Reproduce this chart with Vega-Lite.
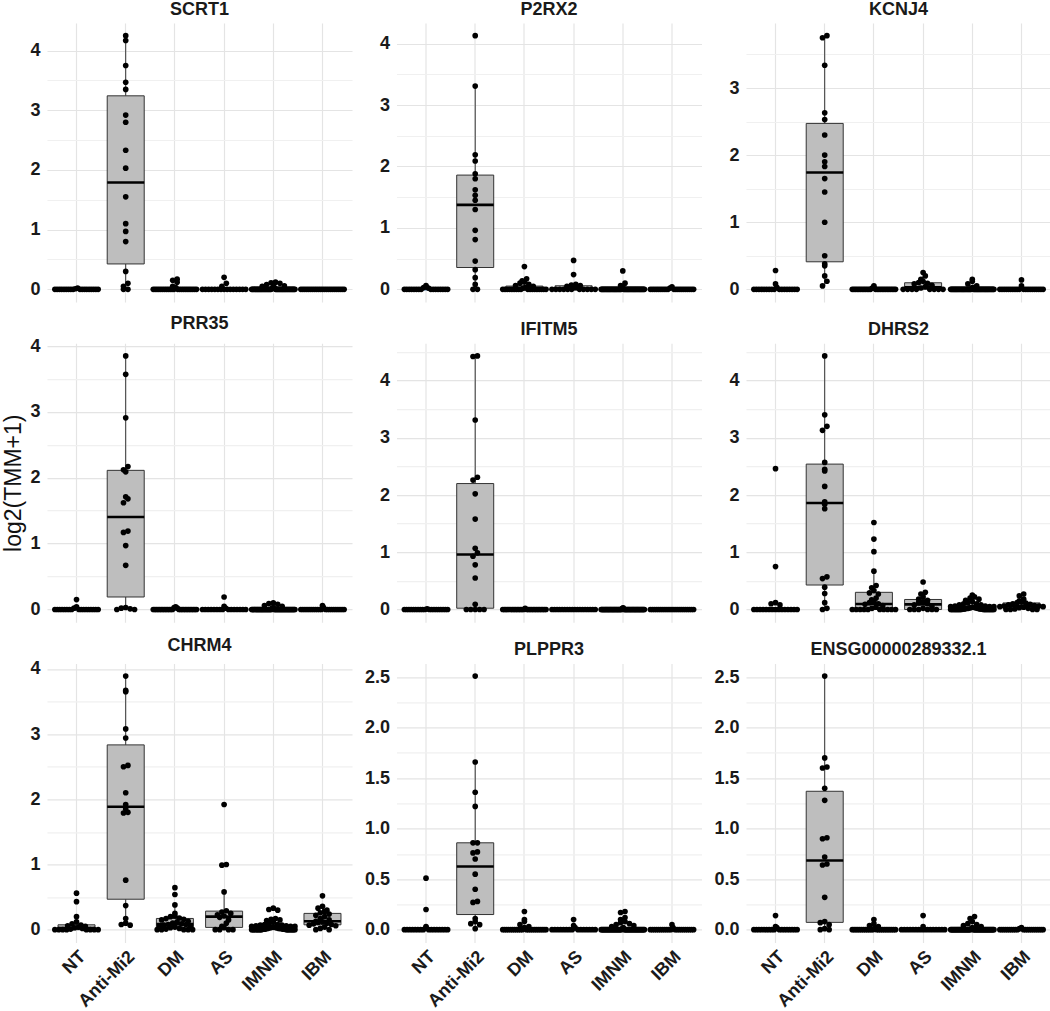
{
"$schema": "https://vega.github.io/schema/vega-lite/v6.json",
"background": "white",
"padding": {"left": 2, "top": 0, "right": 0, "bottom": 0},
"data": {"values": [
{"g":"NT","SCRT1":0.02,"P2RX2":0.06,"KCNJ4":0.28,"PRR35":0.15,"IFITM5":0.01,"DHRS2":2.46,"CHRM4":0.56,"PLPPR3":0.51,"ENSG00000289332.1":0.14},
{"g":"NT","SCRT1":0.01,"P2RX2":0.04,"KCNJ4":0.08,"PRR35":0.04,"IFITM5":0,"DHRS2":0.75,"CHRM4":0.43,"PLPPR3":0.2,"ENSG00000289332.1":0.03},
{"g":"NT","SCRT1":0,"P2RX2":0.03,"KCNJ4":0.03,"PRR35":0.02,"IFITM5":0,"DHRS2":0.12,"CHRM4":0.2,"PLPPR3":0.03,"ENSG00000289332.1":0.02},
{"g":"NT","SCRT1":0,"P2RX2":0.02,"KCNJ4":0,"PRR35":0,"IFITM5":0,"DHRS2":0.1,"CHRM4":0.12,"PLPPR3":0.02,"ENSG00000289332.1":0},
{"g":"NT","SCRT1":0,"P2RX2":0,"KCNJ4":0,"PRR35":0,"IFITM5":0,"DHRS2":0.08,"CHRM4":0.09,"PLPPR3":0,"ENSG00000289332.1":0},
{"g":"NT","SCRT1":0,"P2RX2":0,"KCNJ4":0,"PRR35":0,"IFITM5":0,"DHRS2":0,"CHRM4":0.07,"PLPPR3":0,"ENSG00000289332.1":0},
{"g":"NT","SCRT1":0,"P2RX2":0,"KCNJ4":0,"PRR35":0,"IFITM5":0,"DHRS2":0,"CHRM4":0.06,"PLPPR3":0,"ENSG00000289332.1":0},
{"g":"NT","SCRT1":0,"P2RX2":0,"KCNJ4":0,"PRR35":0,"IFITM5":0,"DHRS2":0,"CHRM4":0.05,"PLPPR3":0,"ENSG00000289332.1":0},
{"g":"NT","SCRT1":0,"P2RX2":0,"KCNJ4":0,"PRR35":0,"IFITM5":0,"DHRS2":0,"CHRM4":0.04,"PLPPR3":0,"ENSG00000289332.1":0},
{"g":"NT","SCRT1":0,"P2RX2":0,"KCNJ4":0,"PRR35":0,"IFITM5":0,"DHRS2":0,"CHRM4":0.03,"PLPPR3":0,"ENSG00000289332.1":0},
{"g":"NT","SCRT1":0,"P2RX2":0,"KCNJ4":0,"PRR35":0,"IFITM5":0,"DHRS2":0,"CHRM4":0.02,"PLPPR3":0,"ENSG00000289332.1":0},
{"g":"NT","SCRT1":0,"P2RX2":0,"KCNJ4":0,"PRR35":0,"IFITM5":0,"DHRS2":0,"CHRM4":0.01,"PLPPR3":0,"ENSG00000289332.1":0},
{"g":"NT","SCRT1":0,"P2RX2":0,"KCNJ4":0,"PRR35":0,"IFITM5":0,"DHRS2":0,"CHRM4":0,"PLPPR3":0,"ENSG00000289332.1":0},
{"g":"NT","SCRT1":0,"P2RX2":0,"KCNJ4":0,"PRR35":0,"IFITM5":0,"DHRS2":0,"CHRM4":0,"PLPPR3":0,"ENSG00000289332.1":0},
{"g":"NT","SCRT1":0,"P2RX2":0,"KCNJ4":0,"PRR35":0,"IFITM5":0,"DHRS2":0,"CHRM4":0,"PLPPR3":0,"ENSG00000289332.1":0},
{"g":"NT","SCRT1":0,"P2RX2":0,"KCNJ4":0,"PRR35":0,"IFITM5":0,"DHRS2":0,"CHRM4":0,"PLPPR3":0,"ENSG00000289332.1":0},
{"g":"NT","SCRT1":0,"P2RX2":0,"KCNJ4":0,"PRR35":0,"IFITM5":0,"DHRS2":0,"CHRM4":0,"PLPPR3":0,"ENSG00000289332.1":0},
{"g":"NT","SCRT1":0,"P2RX2":0,"KCNJ4":0,"PRR35":0,"IFITM5":0,"DHRS2":0,"CHRM4":0,"PLPPR3":0,"ENSG00000289332.1":0},
{"g":"NT","SCRT1":0,"P2RX2":0,"KCNJ4":0,"PRR35":0,"IFITM5":0,"DHRS2":0,"CHRM4":0,"PLPPR3":0,"ENSG00000289332.1":0},
{"g":"NT","SCRT1":0,"P2RX2":0,"KCNJ4":0,"PRR35":0,"IFITM5":0,"DHRS2":0,"CHRM4":0,"PLPPR3":0,"ENSG00000289332.1":0},
{"g":"Anti-Mi2","SCRT1":4.25,"P2RX2":4.13,"KCNJ4":3.78,"PRR35":3.85,"IFITM5":4.43,"DHRS2":4.43,"CHRM4":3.89,"PLPPR3":2.51,"ENSG00000289332.1":2.51},
{"g":"Anti-Mi2","SCRT1":4.17,"P2RX2":3.31,"KCNJ4":3.75,"PRR35":3.57,"IFITM5":4.42,"DHRS2":3.4,"CHRM4":3.67,"PLPPR3":1.66,"ENSG00000289332.1":1.7},
{"g":"Anti-Mi2","SCRT1":3.75,"P2RX2":2.19,"KCNJ4":3.34,"PRR35":2.91,"IFITM5":3.31,"DHRS2":3.2,"CHRM4":3.65,"PLPPR3":1.36,"ENSG00000289332.1":1.61},
{"g":"Anti-Mi2","SCRT1":3.47,"P2RX2":2.09,"KCNJ4":2.63,"PRR35":2.17,"IFITM5":2.31,"DHRS2":3.13,"CHRM4":3.08,"PLPPR3":1.22,"ENSG00000289332.1":1.6},
{"g":"Anti-Mi2","SCRT1":3.35,"P2RX2":1.88,"KCNJ4":2.53,"PRR35":2.12,"IFITM5":2.26,"DHRS2":2.57,"CHRM4":2.94,"PLPPR3":0.86,"ENSG00000289332.1":1.4},
{"g":"Anti-Mi2","SCRT1":2.92,"P2RX2":1.8,"KCNJ4":2.3,"PRR35":2.09,"IFITM5":2.02,"DHRS2":2.45,"CHRM4":2.52,"PLPPR3":0.86,"ENSG00000289332.1":1.28},
{"g":"Anti-Mi2","SCRT1":2.8,"P2RX2":1.62,"KCNJ4":2.0,"PRR35":1.71,"IFITM5":1.58,"DHRS2":2.42,"CHRM4":2.5,"PLPPR3":0.77,"ENSG00000289332.1":0.91},
{"g":"Anti-Mi2","SCRT1":2.33,"P2RX2":1.53,"KCNJ4":1.9,"PRR35":1.68,"IFITM5":1.07,"DHRS2":2.15,"CHRM4":2.1,"PLPPR3":0.76,"ENSG00000289332.1":0.9},
{"g":"Anti-Mi2","SCRT1":2.03,"P2RX2":1.45,"KCNJ4":1.83,"PRR35":1.62,"IFITM5":0.99,"DHRS2":1.88,"CHRM4":1.92,"PLPPR3":0.7,"ENSG00000289332.1":0.72},
{"g":"Anti-Mi2","SCRT1":1.55,"P2RX2":1.3,"KCNJ4":1.65,"PRR35":1.19,"IFITM5":0.93,"DHRS2":1.84,"CHRM4":1.85,"PLPPR3":0.55,"ENSG00000289332.1":0.65},
{"g":"Anti-Mi2","SCRT1":1.1,"P2RX2":0.96,"KCNJ4":1.45,"PRR35":1.17,"IFITM5":0.78,"DHRS2":1.76,"CHRM4":1.8,"PLPPR3":0.4,"ENSG00000289332.1":0.64},
{"g":"Anti-Mi2","SCRT1":0.97,"P2RX2":0.81,"KCNJ4":1.0,"PRR35":0.97,"IFITM5":0.55,"DHRS2":0.57,"CHRM4":1.79,"PLPPR3":0.28,"ENSG00000289332.1":0.32},
{"g":"Anti-Mi2","SCRT1":0.8,"P2RX2":0.46,"KCNJ4":0.5,"PRR35":0.67,"IFITM5":0.09,"DHRS2":0.54,"CHRM4":0.76,"PLPPR3":0.27,"ENSG00000289332.1":0.08},
{"g":"Anti-Mi2","SCRT1":0.3,"P2RX2":0.32,"KCNJ4":0.38,"PRR35":0.03,"IFITM5":0,"DHRS2":0.39,"CHRM4":0.37,"PLPPR3":0.11,"ENSG00000289332.1":0.07},
{"g":"Anti-Mi2","SCRT1":0.1,"P2RX2":0.19,"KCNJ4":0.35,"PRR35":0.02,"IFITM5":0,"DHRS2":0.28,"CHRM4":0.17,"PLPPR3":0.08,"ENSG00000289332.1":0.05},
{"g":"Anti-Mi2","SCRT1":0.05,"P2RX2":0.08,"KCNJ4":0.2,"PRR35":0.01,"IFITM5":0,"DHRS2":0.12,"CHRM4":0.1,"PLPPR3":0.06,"ENSG00000289332.1":0.01},
{"g":"Anti-Mi2","SCRT1":0,"P2RX2":0,"KCNJ4":0.12,"PRR35":0,"IFITM5":0,"DHRS2":0.02,"CHRM4":0.08,"PLPPR3":0.05,"ENSG00000289332.1":0},
{"g":"Anti-Mi2","SCRT1":0,"P2RX2":0,"KCNJ4":0.05,"PRR35":0,"IFITM5":0,"DHRS2":0,"CHRM4":0.07,"PLPPR3":0.01,"ENSG00000289332.1":0},
{"g":"DM","SCRT1":0.17,"P2RX2":0.37,"KCNJ4":0.05,"PRR35":0.04,"IFITM5":0.02,"DHRS2":1.52,"CHRM4":0.645,"PLPPR3":0.18,"ENSG00000289332.1":0.1},
{"g":"DM","SCRT1":0.15,"P2RX2":0.17,"KCNJ4":0.03,"PRR35":0.03,"IFITM5":0,"DHRS2":1.23,"CHRM4":0.54,"PLPPR3":0.1,"ENSG00000289332.1":0.06},
{"g":"DM","SCRT1":0.12,"P2RX2":0.14,"KCNJ4":0.02,"PRR35":0.02,"IFITM5":0,"DHRS2":1.01,"CHRM4":0.38,"PLPPR3":0.08,"ENSG00000289332.1":0.04},
{"g":"DM","SCRT1":0.05,"P2RX2":0.12,"KCNJ4":0,"PRR35":0,"IFITM5":0,"DHRS2":0.67,"CHRM4":0.25,"PLPPR3":0.05,"ENSG00000289332.1":0.03},
{"g":"DM","SCRT1":0.03,"P2RX2":0.1,"KCNJ4":0,"PRR35":0,"IFITM5":0,"DHRS2":0.42,"CHRM4":0.21,"PLPPR3":0.03,"ENSG00000289332.1":0.02},
{"g":"DM","SCRT1":0,"P2RX2":0.08,"KCNJ4":0,"PRR35":0,"IFITM5":0,"DHRS2":0.38,"CHRM4":0.2,"PLPPR3":0.02,"ENSG00000289332.1":0},
{"g":"DM","SCRT1":0,"P2RX2":0.06,"KCNJ4":0,"PRR35":0,"IFITM5":0,"DHRS2":0.33,"CHRM4":0.18,"PLPPR3":0,"ENSG00000289332.1":0},
{"g":"DM","SCRT1":0,"P2RX2":0.05,"KCNJ4":0,"PRR35":0,"IFITM5":0,"DHRS2":0.29,"CHRM4":0.17,"PLPPR3":0,"ENSG00000289332.1":0},
{"g":"DM","SCRT1":0,"P2RX2":0.03,"KCNJ4":0,"PRR35":0,"IFITM5":0,"DHRS2":0.27,"CHRM4":0.16,"PLPPR3":0,"ENSG00000289332.1":0},
{"g":"DM","SCRT1":0,"P2RX2":0.02,"KCNJ4":0,"PRR35":0,"IFITM5":0,"DHRS2":0.2,"CHRM4":0.15,"PLPPR3":0,"ENSG00000289332.1":0},
{"g":"DM","SCRT1":0,"P2RX2":0,"KCNJ4":0,"PRR35":0,"IFITM5":0,"DHRS2":0.17,"CHRM4":0.13,"PLPPR3":0,"ENSG00000289332.1":0},
{"g":"DM","SCRT1":0,"P2RX2":0,"KCNJ4":0,"PRR35":0,"IFITM5":0,"DHRS2":0.14,"CHRM4":0.12,"PLPPR3":0,"ENSG00000289332.1":0},
{"g":"DM","SCRT1":0,"P2RX2":0,"KCNJ4":0,"PRR35":0,"IFITM5":0,"DHRS2":0.12,"CHRM4":0.1,"PLPPR3":0,"ENSG00000289332.1":0},
{"g":"DM","SCRT1":0,"P2RX2":0,"KCNJ4":0,"PRR35":0,"IFITM5":0,"DHRS2":0.1,"CHRM4":0.09,"PLPPR3":0,"ENSG00000289332.1":0},
{"g":"DM","SCRT1":0,"P2RX2":0,"KCNJ4":0,"PRR35":0,"IFITM5":0,"DHRS2":0.09,"CHRM4":0.08,"PLPPR3":0,"ENSG00000289332.1":0},
{"g":"DM","SCRT1":0,"P2RX2":0,"KCNJ4":0,"PRR35":0,"IFITM5":0,"DHRS2":0.07,"CHRM4":0.08,"PLPPR3":0,"ENSG00000289332.1":0},
{"g":"DM","SCRT1":0,"P2RX2":0,"KCNJ4":0,"PRR35":0,"IFITM5":0,"DHRS2":0.04,"CHRM4":0.07,"PLPPR3":0,"ENSG00000289332.1":0},
{"g":"DM","SCRT1":0,"P2RX2":0,"KCNJ4":0,"PRR35":0,"IFITM5":0,"DHRS2":0.02,"CHRM4":0.06,"PLPPR3":0,"ENSG00000289332.1":0},
{"g":"DM","SCRT1":0,"P2RX2":0,"KCNJ4":0,"PRR35":0,"IFITM5":0,"DHRS2":0,"CHRM4":0.05,"PLPPR3":0,"ENSG00000289332.1":0},
{"g":"DM","SCRT1":0,"P2RX2":0,"KCNJ4":0,"PRR35":0,"IFITM5":0,"DHRS2":0,"CHRM4":0.04,"PLPPR3":0,"ENSG00000289332.1":0},
{"g":"DM","SCRT1":0,"P2RX2":0,"KCNJ4":0,"PRR35":0,"IFITM5":0,"DHRS2":0,"CHRM4":0.03,"PLPPR3":0,"ENSG00000289332.1":0},
{"g":"DM","SCRT1":0,"P2RX2":0,"KCNJ4":0,"PRR35":0,"IFITM5":0,"DHRS2":0,"CHRM4":0.02,"PLPPR3":0,"ENSG00000289332.1":0},
{"g":"DM","SCRT1":0,"P2RX2":0,"KCNJ4":0,"PRR35":0,"IFITM5":0,"DHRS2":0,"CHRM4":0.01,"PLPPR3":0,"ENSG00000289332.1":0},
{"g":"DM","SCRT1":0,"P2RX2":0,"KCNJ4":0,"PRR35":0,"IFITM5":0,"DHRS2":0,"CHRM4":0,"PLPPR3":0,"ENSG00000289332.1":0},
{"g":"DM","SCRT1":0,"P2RX2":0,"KCNJ4":0,"PRR35":0,"IFITM5":0,"DHRS2":0,"CHRM4":0,"PLPPR3":0,"ENSG00000289332.1":0},
{"g":"DM","SCRT1":0,"P2RX2":0,"KCNJ4":0,"PRR35":0,"IFITM5":0,"DHRS2":0,"CHRM4":0,"PLPPR3":0,"ENSG00000289332.1":0},
{"g":"DM","SCRT1":0,"P2RX2":0,"KCNJ4":0,"PRR35":0,"IFITM5":0,"DHRS2":0,"CHRM4":0,"PLPPR3":0,"ENSG00000289332.1":0},
{"g":"DM","SCRT1":0,"P2RX2":0,"KCNJ4":0,"PRR35":0,"IFITM5":0,"DHRS2":0,"CHRM4":0,"PLPPR3":0,"ENSG00000289332.1":0},
{"g":"AS","SCRT1":0.2,"P2RX2":0.47,"KCNJ4":0.25,"PRR35":0.19,"IFITM5":0,"DHRS2":0.48,"CHRM4":1.92,"PLPPR3":0.1,"ENSG00000289332.1":0.14},
{"g":"AS","SCRT1":0.1,"P2RX2":0.24,"KCNJ4":0.2,"PRR35":0.05,"IFITM5":0,"DHRS2":0.3,"CHRM4":1.0,"PLPPR3":0.04,"ENSG00000289332.1":0.03},
{"g":"AS","SCRT1":0.05,"P2RX2":0.08,"KCNJ4":0.15,"PRR35":0.02,"IFITM5":0,"DHRS2":0.27,"CHRM4":0.99,"PLPPR3":0.02,"ENSG00000289332.1":0},
{"g":"AS","SCRT1":0,"P2RX2":0.07,"KCNJ4":0.12,"PRR35":0,"IFITM5":0,"DHRS2":0.22,"CHRM4":0.58,"PLPPR3":0,"ENSG00000289332.1":0},
{"g":"AS","SCRT1":0,"P2RX2":0.06,"KCNJ4":0.1,"PRR35":0,"IFITM5":0,"DHRS2":0.18,"CHRM4":0.29,"PLPPR3":0,"ENSG00000289332.1":0},
{"g":"AS","SCRT1":0,"P2RX2":0.05,"KCNJ4":0.09,"PRR35":0,"IFITM5":0,"DHRS2":0.16,"CHRM4":0.27,"PLPPR3":0,"ENSG00000289332.1":0},
{"g":"AS","SCRT1":0,"P2RX2":0.03,"KCNJ4":0.08,"PRR35":0,"IFITM5":0,"DHRS2":0.13,"CHRM4":0.25,"PLPPR3":0,"ENSG00000289332.1":0},
{"g":"AS","SCRT1":0,"P2RX2":0,"KCNJ4":0.06,"PRR35":0,"IFITM5":0,"DHRS2":0.12,"CHRM4":0.23,"PLPPR3":0,"ENSG00000289332.1":0},
{"g":"AS","SCRT1":0,"P2RX2":0,"KCNJ4":0.04,"PRR35":0,"IFITM5":0,"DHRS2":0.1,"CHRM4":0.21,"PLPPR3":0,"ENSG00000289332.1":0},
{"g":"AS","SCRT1":0,"P2RX2":0,"KCNJ4":0.02,"PRR35":0,"IFITM5":0,"DHRS2":0.08,"CHRM4":0.19,"PLPPR3":0,"ENSG00000289332.1":0},
{"g":"AS","SCRT1":0,"P2RX2":0,"KCNJ4":0,"PRR35":0,"IFITM5":0,"DHRS2":0.05,"CHRM4":0.15,"PLPPR3":0,"ENSG00000289332.1":0},
{"g":"AS","SCRT1":0,"P2RX2":0,"KCNJ4":0,"PRR35":0,"IFITM5":0,"DHRS2":0.02,"CHRM4":0.1,"PLPPR3":0,"ENSG00000289332.1":0},
{"g":"AS","SCRT1":0,"P2RX2":0,"KCNJ4":0,"PRR35":0,"IFITM5":0,"DHRS2":0,"CHRM4":0.05,"PLPPR3":0,"ENSG00000289332.1":0},
{"g":"AS","SCRT1":0,"P2RX2":0,"KCNJ4":0,"PRR35":0,"IFITM5":0,"DHRS2":0,"CHRM4":0.03,"PLPPR3":0,"ENSG00000289332.1":0},
{"g":"AS","SCRT1":0,"P2RX2":0,"KCNJ4":0,"PRR35":0,"IFITM5":0,"DHRS2":0,"CHRM4":0,"PLPPR3":0,"ENSG00000289332.1":0},
{"g":"AS","SCRT1":0,"P2RX2":0,"KCNJ4":0,"PRR35":0,"IFITM5":0,"DHRS2":0,"CHRM4":0,"PLPPR3":0,"ENSG00000289332.1":0},
{"g":"AS","SCRT1":0,"P2RX2":0,"KCNJ4":0,"PRR35":0,"IFITM5":0,"DHRS2":0,"CHRM4":0,"PLPPR3":0,"ENSG00000289332.1":0},
{"g":"AS","SCRT1":0,"P2RX2":0,"KCNJ4":0,"PRR35":0,"IFITM5":0,"DHRS2":0,"CHRM4":0,"PLPPR3":0,"ENSG00000289332.1":0},
{"g":"IMNM","SCRT1":0.12,"P2RX2":0.3,"KCNJ4":0.15,"PRR35":0.1,"IFITM5":0.03,"DHRS2":0.25,"CHRM4":0.33,"PLPPR3":0.18,"ENSG00000289332.1":0.13},
{"g":"IMNM","SCRT1":0.11,"P2RX2":0.1,"KCNJ4":0.12,"PRR35":0.09,"IFITM5":0.02,"DHRS2":0.22,"CHRM4":0.31,"PLPPR3":0.17,"ENSG00000289332.1":0.11},
{"g":"IMNM","SCRT1":0.1,"P2RX2":0.06,"KCNJ4":0.08,"PRR35":0.08,"IFITM5":0,"DHRS2":0.2,"CHRM4":0.3,"PLPPR3":0.12,"ENSG00000289332.1":0.08},
{"g":"IMNM","SCRT1":0.08,"P2RX2":0.04,"KCNJ4":0.05,"PRR35":0.06,"IFITM5":0,"DHRS2":0.18,"CHRM4":0.17,"PLPPR3":0.1,"ENSG00000289332.1":0.06},
{"g":"IMNM","SCRT1":0.06,"P2RX2":0.02,"KCNJ4":0.03,"PRR35":0.05,"IFITM5":0,"DHRS2":0.16,"CHRM4":0.16,"PLPPR3":0.08,"ENSG00000289332.1":0.05},
{"g":"IMNM","SCRT1":0.05,"P2RX2":0,"KCNJ4":0.02,"PRR35":0.03,"IFITM5":0,"DHRS2":0.14,"CHRM4":0.15,"PLPPR3":0.07,"ENSG00000289332.1":0.04},
{"g":"IMNM","SCRT1":0.04,"P2RX2":0,"KCNJ4":0,"PRR35":0.02,"IFITM5":0,"DHRS2":0.12,"CHRM4":0.14,"PLPPR3":0.06,"ENSG00000289332.1":0.03},
{"g":"IMNM","SCRT1":0.03,"P2RX2":0,"KCNJ4":0,"PRR35":0,"IFITM5":0,"DHRS2":0.1,"CHRM4":0.12,"PLPPR3":0.05,"ENSG00000289332.1":0.02},
{"g":"IMNM","SCRT1":0.02,"P2RX2":0,"KCNJ4":0,"PRR35":0,"IFITM5":0,"DHRS2":0.1,"CHRM4":0.1,"PLPPR3":0.04,"ENSG00000289332.1":0.01},
{"g":"IMNM","SCRT1":0.01,"P2RX2":0,"KCNJ4":0,"PRR35":0,"IFITM5":0,"DHRS2":0.08,"CHRM4":0.08,"PLPPR3":0.03,"ENSG00000289332.1":0},
{"g":"IMNM","SCRT1":0,"P2RX2":0,"KCNJ4":0,"PRR35":0,"IFITM5":0,"DHRS2":0.08,"CHRM4":0.08,"PLPPR3":0.02,"ENSG00000289332.1":0},
{"g":"IMNM","SCRT1":0,"P2RX2":0,"KCNJ4":0,"PRR35":0,"IFITM5":0,"DHRS2":0.06,"CHRM4":0.07,"PLPPR3":0.01,"ENSG00000289332.1":0},
{"g":"IMNM","SCRT1":0,"P2RX2":0,"KCNJ4":0,"PRR35":0,"IFITM5":0,"DHRS2":0.06,"CHRM4":0.07,"PLPPR3":0,"ENSG00000289332.1":0},
{"g":"IMNM","SCRT1":0,"P2RX2":0,"KCNJ4":0,"PRR35":0,"IFITM5":0,"DHRS2":0.05,"CHRM4":0.06,"PLPPR3":0,"ENSG00000289332.1":0},
{"g":"IMNM","SCRT1":0,"P2RX2":0,"KCNJ4":0,"PRR35":0,"IFITM5":0,"DHRS2":0.05,"CHRM4":0.06,"PLPPR3":0,"ENSG00000289332.1":0},
{"g":"IMNM","SCRT1":0,"P2RX2":0,"KCNJ4":0,"PRR35":0,"IFITM5":0,"DHRS2":0.05,"CHRM4":0.05,"PLPPR3":0,"ENSG00000289332.1":0},
{"g":"IMNM","SCRT1":0,"P2RX2":0,"KCNJ4":0,"PRR35":0,"IFITM5":0,"DHRS2":0.04,"CHRM4":0.05,"PLPPR3":0,"ENSG00000289332.1":0},
{"g":"IMNM","SCRT1":0,"P2RX2":0,"KCNJ4":0,"PRR35":0,"IFITM5":0,"DHRS2":0.04,"CHRM4":0.05,"PLPPR3":0,"ENSG00000289332.1":0},
{"g":"IMNM","SCRT1":0,"P2RX2":0,"KCNJ4":0,"PRR35":0,"IFITM5":0,"DHRS2":0.04,"CHRM4":0.04,"PLPPR3":0,"ENSG00000289332.1":0},
{"g":"IMNM","SCRT1":0,"P2RX2":0,"KCNJ4":0,"PRR35":0,"IFITM5":0,"DHRS2":0.03,"CHRM4":0.04,"PLPPR3":0,"ENSG00000289332.1":0},
{"g":"IMNM","SCRT1":0,"P2RX2":0,"KCNJ4":0,"PRR35":0,"IFITM5":0,"DHRS2":0.03,"CHRM4":0.04,"PLPPR3":0,"ENSG00000289332.1":0},
{"g":"IMNM","SCRT1":0,"P2RX2":0,"KCNJ4":0,"PRR35":0,"IFITM5":0,"DHRS2":0.03,"CHRM4":0.04,"PLPPR3":0,"ENSG00000289332.1":0},
{"g":"IMNM","SCRT1":0,"P2RX2":0,"KCNJ4":0,"PRR35":0,"IFITM5":0,"DHRS2":0.03,"CHRM4":0.03,"PLPPR3":0,"ENSG00000289332.1":0},
{"g":"IMNM","SCRT1":0,"P2RX2":0,"KCNJ4":0,"PRR35":0,"IFITM5":0,"DHRS2":0.02,"CHRM4":0.03,"PLPPR3":0,"ENSG00000289332.1":0},
{"g":"IMNM","SCRT1":0,"P2RX2":0,"KCNJ4":0,"PRR35":0,"IFITM5":0,"DHRS2":0.02,"CHRM4":0.03,"PLPPR3":0,"ENSG00000289332.1":0},
{"g":"IMNM","SCRT1":0,"P2RX2":0,"KCNJ4":0,"PRR35":0,"IFITM5":0,"DHRS2":0.02,"CHRM4":0.03,"PLPPR3":0,"ENSG00000289332.1":0},
{"g":"IMNM","SCRT1":0,"P2RX2":0,"KCNJ4":0,"PRR35":0,"IFITM5":0,"DHRS2":0.02,"CHRM4":0.02,"PLPPR3":0,"ENSG00000289332.1":0},
{"g":"IMNM","SCRT1":0,"P2RX2":0,"KCNJ4":0,"PRR35":0,"IFITM5":0,"DHRS2":0.02,"CHRM4":0.02,"PLPPR3":0,"ENSG00000289332.1":0},
{"g":"IMNM","SCRT1":0,"P2RX2":0,"KCNJ4":0,"PRR35":0,"IFITM5":0,"DHRS2":0.01,"CHRM4":0.02,"PLPPR3":0,"ENSG00000289332.1":0},
{"g":"IMNM","SCRT1":0,"P2RX2":0,"KCNJ4":0,"PRR35":0,"IFITM5":0,"DHRS2":0.01,"CHRM4":0.02,"PLPPR3":0,"ENSG00000289332.1":0},
{"g":"IMNM","SCRT1":0,"P2RX2":0,"KCNJ4":0,"PRR35":0,"IFITM5":0,"DHRS2":0.01,"CHRM4":0.02,"PLPPR3":0,"ENSG00000289332.1":0},
{"g":"IMNM","SCRT1":0,"P2RX2":0,"KCNJ4":0,"PRR35":0,"IFITM5":0,"DHRS2":0.01,"CHRM4":0.01,"PLPPR3":0,"ENSG00000289332.1":0},
{"g":"IMNM","SCRT1":0,"P2RX2":0,"KCNJ4":0,"PRR35":0,"IFITM5":0,"DHRS2":0.01,"CHRM4":0.01,"PLPPR3":0,"ENSG00000289332.1":0},
{"g":"IMNM","SCRT1":0,"P2RX2":0,"KCNJ4":0,"PRR35":0,"IFITM5":0,"DHRS2":0.01,"CHRM4":0.01,"PLPPR3":0,"ENSG00000289332.1":0},
{"g":"IMNM","SCRT1":0,"P2RX2":0,"KCNJ4":0,"PRR35":0,"IFITM5":0,"DHRS2":0,"CHRM4":0.01,"PLPPR3":0,"ENSG00000289332.1":0},
{"g":"IMNM","SCRT1":0,"P2RX2":0,"KCNJ4":0,"PRR35":0,"IFITM5":0,"DHRS2":0,"CHRM4":0.01,"PLPPR3":0,"ENSG00000289332.1":0},
{"g":"IMNM","SCRT1":0,"P2RX2":0,"KCNJ4":0,"PRR35":0,"IFITM5":0,"DHRS2":0,"CHRM4":0.01,"PLPPR3":0,"ENSG00000289332.1":0},
{"g":"IMNM","SCRT1":0,"P2RX2":0,"KCNJ4":0,"PRR35":0,"IFITM5":0,"DHRS2":0,"CHRM4":0,"PLPPR3":0,"ENSG00000289332.1":0},
{"g":"IMNM","SCRT1":0,"P2RX2":0,"KCNJ4":0,"PRR35":0,"IFITM5":0,"DHRS2":0,"CHRM4":0,"PLPPR3":0,"ENSG00000289332.1":0},
{"g":"IMNM","SCRT1":0,"P2RX2":0,"KCNJ4":0,"PRR35":0,"IFITM5":0,"DHRS2":0,"CHRM4":0,"PLPPR3":0,"ENSG00000289332.1":0},
{"g":"IMNM","SCRT1":0,"P2RX2":0,"KCNJ4":0,"PRR35":0,"IFITM5":0,"DHRS2":0,"CHRM4":0,"PLPPR3":0,"ENSG00000289332.1":0},
{"g":"IMNM","SCRT1":0,"P2RX2":0,"KCNJ4":0,"PRR35":0,"IFITM5":0,"DHRS2":0,"CHRM4":0,"PLPPR3":0,"ENSG00000289332.1":0},
{"g":"IMNM","SCRT1":0,"P2RX2":0,"KCNJ4":0,"PRR35":0,"IFITM5":0,"DHRS2":0,"CHRM4":0,"PLPPR3":0,"ENSG00000289332.1":0},
{"g":"IMNM","SCRT1":0,"P2RX2":0,"KCNJ4":0,"PRR35":0,"IFITM5":0,"DHRS2":0,"CHRM4":0,"PLPPR3":0,"ENSG00000289332.1":0},
{"g":"IMNM","SCRT1":0,"P2RX2":0,"KCNJ4":0,"PRR35":0,"IFITM5":0,"DHRS2":0,"CHRM4":0,"PLPPR3":0,"ENSG00000289332.1":0},
{"g":"IMNM","SCRT1":0,"P2RX2":0,"KCNJ4":0,"PRR35":0,"IFITM5":0,"DHRS2":0,"CHRM4":0,"PLPPR3":0,"ENSG00000289332.1":0},
{"g":"IMNM","SCRT1":0,"P2RX2":0,"KCNJ4":0,"PRR35":0,"IFITM5":0,"DHRS2":0,"CHRM4":0,"PLPPR3":0,"ENSG00000289332.1":0},
{"g":"IMNM","SCRT1":0,"P2RX2":0,"KCNJ4":0,"PRR35":0,"IFITM5":0,"DHRS2":0,"CHRM4":0,"PLPPR3":0,"ENSG00000289332.1":0},
{"g":"IMNM","SCRT1":0,"P2RX2":0,"KCNJ4":0,"PRR35":0,"IFITM5":0,"DHRS2":0,"CHRM4":0,"PLPPR3":0,"ENSG00000289332.1":0},
{"g":"IMNM","SCRT1":0,"P2RX2":0,"KCNJ4":0,"PRR35":0,"IFITM5":0,"DHRS2":0,"CHRM4":0,"PLPPR3":0,"ENSG00000289332.1":0},
{"g":"IMNM","SCRT1":0,"P2RX2":0,"KCNJ4":0,"PRR35":0,"IFITM5":0,"DHRS2":0,"CHRM4":0,"PLPPR3":0,"ENSG00000289332.1":0},
{"g":"IMNM","SCRT1":0,"P2RX2":0,"KCNJ4":0,"PRR35":0,"IFITM5":0,"DHRS2":0,"CHRM4":0,"PLPPR3":0,"ENSG00000289332.1":0},
{"g":"IMNM","SCRT1":0,"P2RX2":0,"KCNJ4":0,"PRR35":0,"IFITM5":0,"DHRS2":0,"CHRM4":0,"PLPPR3":0,"ENSG00000289332.1":0},
{"g":"IMNM","SCRT1":0,"P2RX2":0,"KCNJ4":0,"PRR35":0,"IFITM5":0,"DHRS2":0,"CHRM4":0,"PLPPR3":0,"ENSG00000289332.1":0},
{"g":"IBM","SCRT1":0,"P2RX2":0.04,"KCNJ4":0.14,"PRR35":0.06,"IFITM5":0,"DHRS2":0.27,"CHRM4":0.52,"PLPPR3":0.05,"ENSG00000289332.1":0.02},
{"g":"IBM","SCRT1":0,"P2RX2":0.02,"KCNJ4":0.05,"PRR35":0.03,"IFITM5":0,"DHRS2":0.24,"CHRM4":0.36,"PLPPR3":0.02,"ENSG00000289332.1":0.01},
{"g":"IBM","SCRT1":0,"P2RX2":0,"KCNJ4":0.02,"PRR35":0,"IFITM5":0,"DHRS2":0.18,"CHRM4":0.33,"PLPPR3":0,"ENSG00000289332.1":0},
{"g":"IBM","SCRT1":0,"P2RX2":0,"KCNJ4":0,"PRR35":0,"IFITM5":0,"DHRS2":0.15,"CHRM4":0.3,"PLPPR3":0,"ENSG00000289332.1":0},
{"g":"IBM","SCRT1":0,"P2RX2":0,"KCNJ4":0,"PRR35":0,"IFITM5":0,"DHRS2":0.13,"CHRM4":0.28,"PLPPR3":0,"ENSG00000289332.1":0},
{"g":"IBM","SCRT1":0,"P2RX2":0,"KCNJ4":0,"PRR35":0,"IFITM5":0,"DHRS2":0.12,"CHRM4":0.26,"PLPPR3":0,"ENSG00000289332.1":0},
{"g":"IBM","SCRT1":0,"P2RX2":0,"KCNJ4":0,"PRR35":0,"IFITM5":0,"DHRS2":0.11,"CHRM4":0.24,"PLPPR3":0,"ENSG00000289332.1":0},
{"g":"IBM","SCRT1":0,"P2RX2":0,"KCNJ4":0,"PRR35":0,"IFITM5":0,"DHRS2":0.1,"CHRM4":0.22,"PLPPR3":0,"ENSG00000289332.1":0},
{"g":"IBM","SCRT1":0,"P2RX2":0,"KCNJ4":0,"PRR35":0,"IFITM5":0,"DHRS2":0.09,"CHRM4":0.2,"PLPPR3":0,"ENSG00000289332.1":0},
{"g":"IBM","SCRT1":0,"P2RX2":0,"KCNJ4":0,"PRR35":0,"IFITM5":0,"DHRS2":0.08,"CHRM4":0.17,"PLPPR3":0,"ENSG00000289332.1":0},
{"g":"IBM","SCRT1":0,"P2RX2":0,"KCNJ4":0,"PRR35":0,"IFITM5":0,"DHRS2":0.07,"CHRM4":0.15,"PLPPR3":0,"ENSG00000289332.1":0},
{"g":"IBM","SCRT1":0,"P2RX2":0,"KCNJ4":0,"PRR35":0,"IFITM5":0,"DHRS2":0.06,"CHRM4":0.13,"PLPPR3":0,"ENSG00000289332.1":0},
{"g":"IBM","SCRT1":0,"P2RX2":0,"KCNJ4":0,"PRR35":0,"IFITM5":0,"DHRS2":0.06,"CHRM4":0.12,"PLPPR3":0,"ENSG00000289332.1":0},
{"g":"IBM","SCRT1":0,"P2RX2":0,"KCNJ4":0,"PRR35":0,"IFITM5":0,"DHRS2":0.05,"CHRM4":0.11,"PLPPR3":0,"ENSG00000289332.1":0},
{"g":"IBM","SCRT1":0,"P2RX2":0,"KCNJ4":0,"PRR35":0,"IFITM5":0,"DHRS2":0.05,"CHRM4":0.1,"PLPPR3":0,"ENSG00000289332.1":0},
{"g":"IBM","SCRT1":0,"P2RX2":0,"KCNJ4":0,"PRR35":0,"IFITM5":0,"DHRS2":0.04,"CHRM4":0.09,"PLPPR3":0,"ENSG00000289332.1":0},
{"g":"IBM","SCRT1":0,"P2RX2":0,"KCNJ4":0,"PRR35":0,"IFITM5":0,"DHRS2":0.03,"CHRM4":0.08,"PLPPR3":0,"ENSG00000289332.1":0},
{"g":"IBM","SCRT1":0,"P2RX2":0,"KCNJ4":0,"PRR35":0,"IFITM5":0,"DHRS2":0.02,"CHRM4":0.07,"PLPPR3":0,"ENSG00000289332.1":0},
{"g":"IBM","SCRT1":0,"P2RX2":0,"KCNJ4":0,"PRR35":0,"IFITM5":0,"DHRS2":0.01,"CHRM4":0.06,"PLPPR3":0,"ENSG00000289332.1":0},
{"g":"IBM","SCRT1":0,"P2RX2":0,"KCNJ4":0,"PRR35":0,"IFITM5":0,"DHRS2":0,"CHRM4":0.04,"PLPPR3":0,"ENSG00000289332.1":0},
{"g":"IBM","SCRT1":0,"P2RX2":0,"KCNJ4":0,"PRR35":0,"IFITM5":0,"DHRS2":0,"CHRM4":0.02,"PLPPR3":0,"ENSG00000289332.1":0},
{"g":"IBM","SCRT1":0,"P2RX2":0,"KCNJ4":0,"PRR35":0,"IFITM5":0,"DHRS2":0,"CHRM4":0,"PLPPR3":0,"ENSG00000289332.1":0},
{"g":"IBM","SCRT1":0,"P2RX2":0,"KCNJ4":0,"PRR35":0,"IFITM5":0,"DHRS2":0,"CHRM4":0,"PLPPR3":0,"ENSG00000289332.1":0}
]},
"columns": 3,
"spacing": {"row": 41.2, "column": 44.5},
"bounds": "flush",
"concat": [
{"width": 305, "height": 279, "title": "SCRT1",
 "transform": [
  {"calculate": "datum['SCRT1']", "as": "v"},
  {"calculate": "round(datum.v / 0.092)", "as": "bin"},
  {"window": [{"op": "row_number", "as": "r"}, {"op": "count", "as": "n"}], "groupby": ["g", "bin"], "sort": [{"field": "v", "order": "descending"}], "frame": [null, null]},
  {"calculate": "(((datum.r - 1) % 2 == 0) ? 1 : -1) * floor(datum.r / 2) + ((datum.n % 2 == 0) ? 0.5 : 0)", "as": "k"},
  {"calculate": "datum.k * min(0.09, 0.88 / max(datum.n - 1, 1))", "as": "off"}
 ],
 "encoding": {
  "x": {"field": "g", "type": "nominal", "sort": ["NT","Anti-Mi2","DM","AS","IMNM","IBM"], "scale": {"paddingInner": 0, "paddingOuter": 0.1}, "axis": {"title": null, "labels": false, "grid": true, "bandPosition": 0.5}},
  "y": {"field": "v", "type": "quantitative", "scale": {"zero": false, "nice": false, "padding": 12.7}, "axis": {"title": null, "values": [0,0.5,1,1.5,2,2.5,3,3.5,4], "labelExpr": "datum.value % 1 == 0 ? format(datum.value, 'd') : ''", "gridColor": {"condition": {"test": "datum.value % 1 != 0", "value": "#F0F0F0"}, "value": "#E4E4E4"}}}
 },
 "layer": [
  {"mark": {"type": "boxplot", "extent": 1.5, "size": 37, "outliers": false, "box": {"fill": "#BEBEBE", "stroke": "#333333", "strokeWidth": 1}, "median": {"color": "#000000", "thickness": 2.6, "opacity": 1}, "rule": {"color": "#333333", "strokeWidth": 1}}},
  {"mark": {"type": "circle", "size": 32, "color": "black", "opacity": 1}, "encoding": {"xOffset": {"field": "off", "type": "quantitative", "scale": {"domain": [-0.5, 0.5], "nice": false, "zero": false}}}}
 ]
},
{"width": 305, "height": 279, "title": "P2RX2",
 "transform": [
  {"calculate": "datum['P2RX2']", "as": "v"},
  {"calculate": "round(datum.v / 0.089)", "as": "bin"},
  {"window": [{"op": "row_number", "as": "r"}, {"op": "count", "as": "n"}], "groupby": ["g", "bin"], "sort": [{"field": "v", "order": "descending"}], "frame": [null, null]},
  {"calculate": "(((datum.r - 1) % 2 == 0) ? 1 : -1) * floor(datum.r / 2) + ((datum.n % 2 == 0) ? 0.5 : 0)", "as": "k"},
  {"calculate": "datum.k * min(0.09, 0.88 / max(datum.n - 1, 1))", "as": "off"}
 ],
 "encoding": {
  "x": {"field": "g", "type": "nominal", "sort": ["NT","Anti-Mi2","DM","AS","IMNM","IBM"], "scale": {"paddingInner": 0, "paddingOuter": 0.1}, "axis": {"title": null, "labels": false, "grid": true, "bandPosition": 0.5}},
  "y": {"field": "v", "type": "quantitative", "scale": {"zero": false, "nice": false, "padding": 12.7}, "axis": {"title": null, "values": [0,0.5,1,1.5,2,2.5,3,3.5,4], "labelExpr": "datum.value % 1 == 0 ? format(datum.value, 'd') : ''", "gridColor": {"condition": {"test": "datum.value % 1 != 0", "value": "#F0F0F0"}, "value": "#E4E4E4"}}}
 },
 "layer": [
  {"mark": {"type": "boxplot", "extent": 1.5, "size": 37, "outliers": false, "box": {"fill": "#BEBEBE", "stroke": "#333333", "strokeWidth": 1}, "median": {"color": "#000000", "thickness": 2.6, "opacity": 1}, "rule": {"color": "#333333", "strokeWidth": 1}}},
  {"mark": {"type": "circle", "size": 32, "color": "black", "opacity": 1}, "encoding": {"xOffset": {"field": "off", "type": "quantitative", "scale": {"domain": [-0.5, 0.5], "nice": false, "zero": false}}}}
 ]
},
{"width": 305, "height": 279, "title": "KCNJ4",
 "transform": [
  {"calculate": "datum['KCNJ4']", "as": "v"},
  {"calculate": "round(datum.v / 0.082)", "as": "bin"},
  {"window": [{"op": "row_number", "as": "r"}, {"op": "count", "as": "n"}], "groupby": ["g", "bin"], "sort": [{"field": "v", "order": "descending"}], "frame": [null, null]},
  {"calculate": "(((datum.r - 1) % 2 == 0) ? 1 : -1) * floor(datum.r / 2) + ((datum.n % 2 == 0) ? 0.5 : 0)", "as": "k"},
  {"calculate": "datum.k * min(0.09, 0.88 / max(datum.n - 1, 1))", "as": "off"}
 ],
 "encoding": {
  "x": {"field": "g", "type": "nominal", "sort": ["NT","Anti-Mi2","DM","AS","IMNM","IBM"], "scale": {"paddingInner": 0, "paddingOuter": 0.1}, "axis": {"title": null, "labels": false, "grid": true, "bandPosition": 0.5}},
  "y": {"field": "v", "type": "quantitative", "scale": {"zero": false, "nice": false, "padding": 12.7}, "axis": {"title": null, "values": [0,0.5,1,1.5,2,2.5,3,3.5], "labelExpr": "datum.value % 1 == 0 ? format(datum.value, 'd') : ''", "gridColor": {"condition": {"test": "datum.value % 1 != 0", "value": "#F0F0F0"}, "value": "#E4E4E4"}}}
 },
 "layer": [
  {"mark": {"type": "boxplot", "extent": 1.5, "size": 37, "outliers": false, "box": {"fill": "#BEBEBE", "stroke": "#333333", "strokeWidth": 1}, "median": {"color": "#000000", "thickness": 2.6, "opacity": 1}, "rule": {"color": "#333333", "strokeWidth": 1}}},
  {"mark": {"type": "circle", "size": 32, "color": "black", "opacity": 1}, "encoding": {"xOffset": {"field": "off", "type": "quantitative", "scale": {"domain": [-0.5, 0.5], "nice": false, "zero": false}}}}
 ]
},
{"width": 305, "height": 279, "title": "PRR35",
 "transform": [
  {"calculate": "datum['PRR35']", "as": "v"},
  {"calculate": "round(datum.v / 0.083)", "as": "bin"},
  {"window": [{"op": "row_number", "as": "r"}, {"op": "count", "as": "n"}], "groupby": ["g", "bin"], "sort": [{"field": "v", "order": "descending"}], "frame": [null, null]},
  {"calculate": "(((datum.r - 1) % 2 == 0) ? 1 : -1) * floor(datum.r / 2) + ((datum.n % 2 == 0) ? 0.5 : 0)", "as": "k"},
  {"calculate": "datum.k * min(0.09, 0.88 / max(datum.n - 1, 1))", "as": "off"}
 ],
 "encoding": {
  "x": {"field": "g", "type": "nominal", "sort": ["NT","Anti-Mi2","DM","AS","IMNM","IBM"], "scale": {"paddingInner": 0, "paddingOuter": 0.1}, "axis": {"title": null, "labels": false, "grid": true, "bandPosition": 0.5}},
  "y": {"field": "v", "type": "quantitative", "scale": {"zero": false, "nice": false, "padding": 12.7}, "axis": {"title": "log2(TMM+1)", "values": [0,0.5,1,1.5,2,2.5,3,3.5,4], "labelExpr": "datum.value % 1 == 0 ? format(datum.value, 'd') : ''", "gridColor": {"condition": {"test": "datum.value % 1 != 0", "value": "#F0F0F0"}, "value": "#E4E4E4"}}}
 },
 "layer": [
  {"mark": {"type": "boxplot", "extent": 1.5, "size": 37, "outliers": false, "box": {"fill": "#BEBEBE", "stroke": "#333333", "strokeWidth": 1}, "median": {"color": "#000000", "thickness": 2.6, "opacity": 1}, "rule": {"color": "#333333", "strokeWidth": 1}}},
  {"mark": {"type": "circle", "size": 32, "color": "black", "opacity": 1}, "encoding": {"xOffset": {"field": "off", "type": "quantitative", "scale": {"domain": [-0.5, 0.5], "nice": false, "zero": false}}}}
 ]
},
{"width": 305, "height": 279, "title": "IFITM5",
 "transform": [
  {"calculate": "datum['IFITM5']", "as": "v"},
  {"calculate": "round(datum.v / 0.096)", "as": "bin"},
  {"window": [{"op": "row_number", "as": "r"}, {"op": "count", "as": "n"}], "groupby": ["g", "bin"], "sort": [{"field": "v", "order": "descending"}], "frame": [null, null]},
  {"calculate": "(((datum.r - 1) % 2 == 0) ? 1 : -1) * floor(datum.r / 2) + ((datum.n % 2 == 0) ? 0.5 : 0)", "as": "k"},
  {"calculate": "datum.k * min(0.09, 0.88 / max(datum.n - 1, 1))", "as": "off"}
 ],
 "encoding": {
  "x": {"field": "g", "type": "nominal", "sort": ["NT","Anti-Mi2","DM","AS","IMNM","IBM"], "scale": {"paddingInner": 0, "paddingOuter": 0.1}, "axis": {"title": null, "labels": false, "grid": true, "bandPosition": 0.5}},
  "y": {"field": "v", "type": "quantitative", "scale": {"zero": false, "nice": false, "padding": 12.7}, "axis": {"title": null, "values": [0,0.5,1,1.5,2,2.5,3,3.5,4,4.5], "labelExpr": "datum.value % 1 == 0 ? format(datum.value, 'd') : ''", "gridColor": {"condition": {"test": "datum.value % 1 != 0", "value": "#F0F0F0"}, "value": "#E4E4E4"}}}
 },
 "layer": [
  {"mark": {"type": "boxplot", "extent": 1.5, "size": 37, "outliers": false, "box": {"fill": "#BEBEBE", "stroke": "#333333", "strokeWidth": 1}, "median": {"color": "#000000", "thickness": 2.6, "opacity": 1}, "rule": {"color": "#333333", "strokeWidth": 1}}},
  {"mark": {"type": "circle", "size": 32, "color": "black", "opacity": 1}, "encoding": {"xOffset": {"field": "off", "type": "quantitative", "scale": {"domain": [-0.5, 0.5], "nice": false, "zero": false}}}}
 ]
},
{"width": 305, "height": 279, "title": "DHRS2",
 "transform": [
  {"calculate": "datum['DHRS2']", "as": "v"},
  {"calculate": "round(datum.v / 0.096)", "as": "bin"},
  {"window": [{"op": "row_number", "as": "r"}, {"op": "count", "as": "n"}], "groupby": ["g", "bin"], "sort": [{"field": "v", "order": "descending"}], "frame": [null, null]},
  {"calculate": "(((datum.r - 1) % 2 == 0) ? 1 : -1) * floor(datum.r / 2) + ((datum.n % 2 == 0) ? 0.5 : 0)", "as": "k"},
  {"calculate": "datum.k * min(0.09, 0.88 / max(datum.n - 1, 1))", "as": "off"}
 ],
 "encoding": {
  "x": {"field": "g", "type": "nominal", "sort": ["NT","Anti-Mi2","DM","AS","IMNM","IBM"], "scale": {"paddingInner": 0, "paddingOuter": 0.1}, "axis": {"title": null, "labels": false, "grid": true, "bandPosition": 0.5}},
  "y": {"field": "v", "type": "quantitative", "scale": {"zero": false, "nice": false, "padding": 12.7}, "axis": {"title": null, "values": [0,0.5,1,1.5,2,2.5,3,3.5,4,4.5], "labelExpr": "datum.value % 1 == 0 ? format(datum.value, 'd') : ''", "gridColor": {"condition": {"test": "datum.value % 1 != 0", "value": "#F0F0F0"}, "value": "#E4E4E4"}}}
 },
 "layer": [
  {"mark": {"type": "boxplot", "extent": 1.5, "size": 37, "outliers": false, "box": {"fill": "#BEBEBE", "stroke": "#333333", "strokeWidth": 1}, "median": {"color": "#000000", "thickness": 2.6, "opacity": 1}, "rule": {"color": "#333333", "strokeWidth": 1}}},
  {"mark": {"type": "circle", "size": 32, "color": "black", "opacity": 1}, "encoding": {"xOffset": {"field": "off", "type": "quantitative", "scale": {"domain": [-0.5, 0.5], "nice": false, "zero": false}}}}
 ]
},
{"width": 305, "height": 279, "title": "CHRM4",
 "transform": [
  {"calculate": "datum['CHRM4']", "as": "v"},
  {"calculate": "round(datum.v / 0.084)", "as": "bin"},
  {"window": [{"op": "row_number", "as": "r"}, {"op": "count", "as": "n"}], "groupby": ["g", "bin"], "sort": [{"field": "v", "order": "descending"}], "frame": [null, null]},
  {"calculate": "(((datum.r - 1) % 2 == 0) ? 1 : -1) * floor(datum.r / 2) + ((datum.n % 2 == 0) ? 0.5 : 0)", "as": "k"},
  {"calculate": "datum.k * min(0.09, 0.88 / max(datum.n - 1, 1))", "as": "off"}
 ],
 "encoding": {
  "x": {"field": "g", "type": "nominal", "sort": ["NT","Anti-Mi2","DM","AS","IMNM","IBM"], "scale": {"paddingInner": 0, "paddingOuter": 0.1}, "axis": {"title": null, "grid": true, "bandPosition": 0.5, "labelAngle": -45, "labelAlign": "right", "labelBaseline": "top", "labelPadding": 5, "labelDy": 3}},
  "y": {"field": "v", "type": "quantitative", "scale": {"zero": false, "nice": false, "padding": 12.7}, "axis": {"title": null, "values": [0,0.5,1,1.5,2,2.5,3,3.5,4], "labelExpr": "datum.value % 1 == 0 ? format(datum.value, 'd') : ''", "gridColor": {"condition": {"test": "datum.value % 1 != 0", "value": "#F0F0F0"}, "value": "#E4E4E4"}}}
 },
 "layer": [
  {"mark": {"type": "boxplot", "extent": 1.5, "size": 37, "outliers": false, "box": {"fill": "#BEBEBE", "stroke": "#333333", "strokeWidth": 1}, "median": {"color": "#000000", "thickness": 2.6, "opacity": 1}, "rule": {"color": "#333333", "strokeWidth": 1}}},
  {"mark": {"type": "circle", "size": 32, "color": "black", "opacity": 1}, "encoding": {"xOffset": {"field": "off", "type": "quantitative", "scale": {"domain": [-0.5, 0.5], "nice": false, "zero": false}}}}
 ]
},
{"width": 305, "height": 279, "title": "PLPPR3",
 "transform": [
  {"calculate": "datum['PLPPR3']", "as": "v"},
  {"calculate": "round(datum.v / 0.054)", "as": "bin"},
  {"window": [{"op": "row_number", "as": "r"}, {"op": "count", "as": "n"}], "groupby": ["g", "bin"], "sort": [{"field": "v", "order": "descending"}], "frame": [null, null]},
  {"calculate": "(((datum.r - 1) % 2 == 0) ? 1 : -1) * floor(datum.r / 2) + ((datum.n % 2 == 0) ? 0.5 : 0)", "as": "k"},
  {"calculate": "datum.k * min(0.09, 0.88 / max(datum.n - 1, 1))", "as": "off"}
 ],
 "encoding": {
  "x": {"field": "g", "type": "nominal", "sort": ["NT","Anti-Mi2","DM","AS","IMNM","IBM"], "scale": {"paddingInner": 0, "paddingOuter": 0.1}, "axis": {"title": null, "grid": true, "bandPosition": 0.5, "labelAngle": -45, "labelAlign": "right", "labelBaseline": "top", "labelPadding": 5, "labelDy": 3}},
  "y": {"field": "v", "type": "quantitative", "scale": {"zero": false, "nice": false, "padding": 12.7}, "axis": {"title": null, "values": [0,0.25,0.5,0.75,1,1.25,1.5,1.75,2,2.25,2.5], "labelExpr": "datum.value % 0.5 == 0 ? format(datum.value, '.1f') : ''", "gridColor": {"condition": {"test": "datum.value % 0.5 != 0", "value": "#F0F0F0"}, "value": "#E4E4E4"}}}
 },
 "layer": [
  {"mark": {"type": "boxplot", "extent": 1.5, "size": 37, "outliers": false, "box": {"fill": "#BEBEBE", "stroke": "#333333", "strokeWidth": 1}, "median": {"color": "#000000", "thickness": 2.6, "opacity": 1}, "rule": {"color": "#333333", "strokeWidth": 1}}},
  {"mark": {"type": "circle", "size": 32, "color": "black", "opacity": 1}, "encoding": {"xOffset": {"field": "off", "type": "quantitative", "scale": {"domain": [-0.5, 0.5], "nice": false, "zero": false}}}}
 ]
},
{"width": 305, "height": 279, "title": "ENSG00000289332.1",
 "transform": [
  {"calculate": "datum['ENSG00000289332.1']", "as": "v"},
  {"calculate": "round(datum.v / 0.054)", "as": "bin"},
  {"window": [{"op": "row_number", "as": "r"}, {"op": "count", "as": "n"}], "groupby": ["g", "bin"], "sort": [{"field": "v", "order": "descending"}], "frame": [null, null]},
  {"calculate": "(((datum.r - 1) % 2 == 0) ? 1 : -1) * floor(datum.r / 2) + ((datum.n % 2 == 0) ? 0.5 : 0)", "as": "k"},
  {"calculate": "datum.k * min(0.09, 0.88 / max(datum.n - 1, 1))", "as": "off"}
 ],
 "encoding": {
  "x": {"field": "g", "type": "nominal", "sort": ["NT","Anti-Mi2","DM","AS","IMNM","IBM"], "scale": {"paddingInner": 0, "paddingOuter": 0.1}, "axis": {"title": null, "grid": true, "bandPosition": 0.5, "labelAngle": -45, "labelAlign": "right", "labelBaseline": "top", "labelPadding": 5, "labelDy": 3}},
  "y": {"field": "v", "type": "quantitative", "scale": {"zero": false, "nice": false, "padding": 12.7}, "axis": {"title": null, "values": [0,0.25,0.5,0.75,1,1.25,1.5,1.75,2,2.25,2.5], "labelExpr": "datum.value % 0.5 == 0 ? format(datum.value, '.1f') : ''", "gridColor": {"condition": {"test": "datum.value % 0.5 != 0", "value": "#F0F0F0"}, "value": "#E4E4E4"}}}
 },
 "layer": [
  {"mark": {"type": "boxplot", "extent": 1.5, "size": 37, "outliers": false, "box": {"fill": "#BEBEBE", "stroke": "#333333", "strokeWidth": 1}, "median": {"color": "#000000", "thickness": 2.6, "opacity": 1}, "rule": {"color": "#333333", "strokeWidth": 1}}},
  {"mark": {"type": "circle", "size": 32, "color": "black", "opacity": 1}, "encoding": {"xOffset": {"field": "off", "type": "quantitative", "scale": {"domain": [-0.5, 0.5], "nice": false, "zero": false}}}}
 ]
}
],
"config": {
 "font": "Liberation Sans",
 "view": {"stroke": null},
 "axis": {"domain": false, "ticks": false, "labelFont": "Liberation Sans", "labelFontSize": 18, "labelFontWeight": "bold", "labelColor": "#1a1a1a", "gridColor": "#E4E4E4", "gridWidth": 1.2, "titleFont": "Liberation Sans", "titleFontWeight": "normal", "titleColor": "#111111"},
 "axisY": {"labelPadding": 7, "minExtent": 0, "titleFontSize": 23, "titlePadding": 4.5},
 "axisX": {"labelOverlap": false},
 "title": {"fontSize": 18, "fontWeight": "bold", "color": "#1a1a1a", "font": "Liberation Sans", "offset": 4.5, "baseline": "alphabetic", "anchor": "middle"}
}
}
